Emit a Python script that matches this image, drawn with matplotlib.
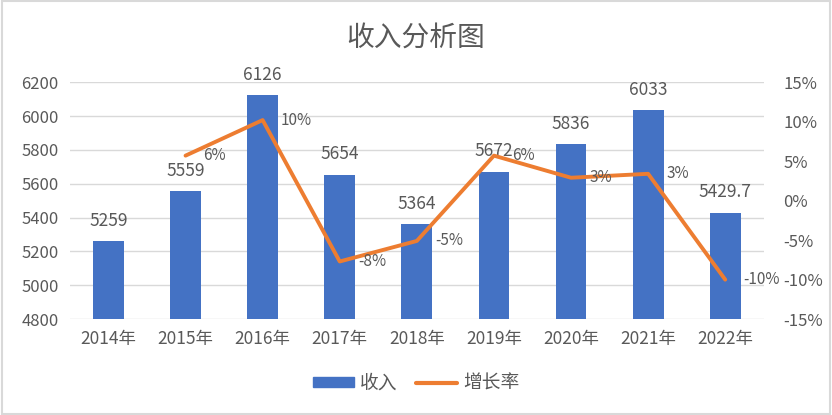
import matplotlib.pyplot as plt
from matplotlib.patches import Rectangle
from matplotlib.lines import Line2D
from matplotlib.patches import Patch

plt.rcParams['font.family'] = ['Noto Sans CJK SC', 'DejaVu Sans']

years = ["2014年", "2015年", "2016年", "2017年", "2018年", "2019年", "2020年", "2021年", "2022年"]
revenue = [5259, 5559, 6126, 5654, 5364, 5672, 5836, 6033, 5429.7]
revenue_labels = ["5259", "5559", "6126", "5654", "5364", "5672", "5836", "6033", "5429.7"]
growth = [5.7, 10.2, -7.7, -5.1, 5.7, 2.9, 3.4, -10.0]
growth_labels = ["6%", "10%", "-8%", "-5%", "6%", "3%", "3%", "-10%"]

BLUE = "#4472C4"
ORANGE = "#ED7D31"
GREY = "#595959"
GRID = "#D9D9D9"

fig = plt.figure(figsize=(8.32, 4.15), dpi=100)
ax = fig.add_axes([0.084, 0.231, 0.834, 0.571])
ax2 = ax.twinx()

x = list(range(len(years)))
ax.bar(x, revenue, width=0.4, color=BLUE, zorder=2)
for xi, v, lab in zip(x, revenue, revenue_labels):
    ax.annotate(lab, (xi, v), xytext=(0, 8), textcoords="offset points",
                ha="center", va="bottom", fontsize=12.5, color=GREY)

ax.set_ylim(4800, 6200)
ax.set_yticks(range(4800, 6201, 200))
ax.set_xlim(-0.5, len(years) - 0.5)
ax.set_xticks(x)
ax.set_xticklabels(years)
ax.yaxis.grid(True, color=GRID, linewidth=1, zorder=0)
ax.set_axisbelow(True)
ax.tick_params(length=0, labelsize=12, labelcolor=GREY, pad=8)
ax.tick_params(axis="x", labelsize=12.5)
for s in ax.spines.values():
    s.set_visible(False)

ax2.plot(x[1:], growth, color=ORANGE, linewidth=2.8, solid_capstyle="round", zorder=3)
for xi, g, lab in zip(x[1:], growth, growth_labels):
    ax2.annotate(lab, (xi, g), xytext=(13, 0), textcoords="offset points",
                 ha="left", va="center", fontsize=11, color=GREY, zorder=5)
ax2.set_ylim(-15, 15)
ax2.set_yticks(range(-15, 16, 5))
ax2.set_yticklabels([f"{t}%" for t in range(-15, 16, 5)])
ax2.tick_params(length=0, labelsize=12, labelcolor=GREY, pad=14)
for s in ax2.spines.values():
    s.set_visible(False)

fig.text(0.5, 0.91, "收入分析图", ha="center", va="center", fontsize=20, color=GREY)

handles = [Patch(color=BLUE), Line2D([0], [0], color=ORANGE, linewidth=3, solid_capstyle="round")]
fig.legend(handles, ["收入", "增长率"], loc="center", bbox_to_anchor=(0.5, 0.077), ncol=2,
           frameon=False, fontsize=13.5, labelcolor=GREY, handlelength=2.2, handleheight=0.45,
           columnspacing=0.95, handletextpad=0.33)

fig.patches.append(Rectangle((0.002, 0.003), 0.996, 0.994, transform=fig.transFigure,
                             fill=False, edgecolor="#D9D9D9", linewidth=1.5))

fig.savefig("out.png", dpi=100)
